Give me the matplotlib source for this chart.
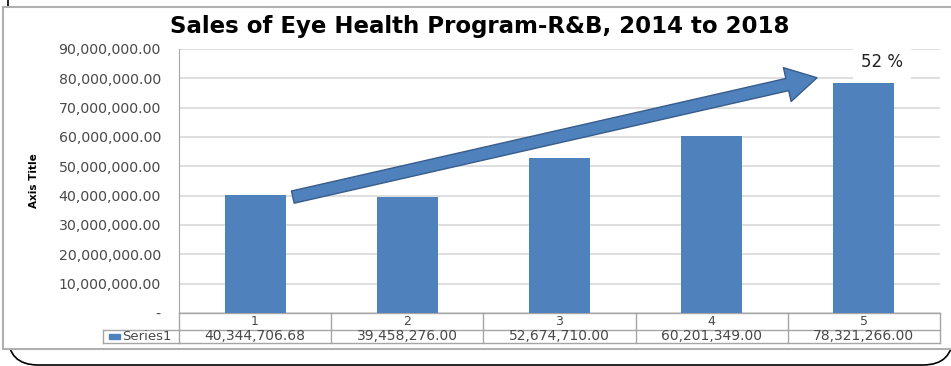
import matplotlib

matplotlib.use("Agg")

import matplotlib.pyplot as plt  # noqa: E402
from matplotlib.patches import FancyArrowPatch, FancyBboxPatch, Rectangle  # noqa: E402
from matplotlib.transforms import blended_transform_factory  # noqa: E402

# Sales per year (category index 1..5 = 2014..2018)
categories = [1, 2, 3, 4, 5]
sales = [40344706.68, 39458276.00, 52674710.00, 60201349.00, 78321266.00]
series_name = "Series1"
growth_label = "52 %"
title = "Sales of Eye Health Program-R&B, 2014 to 2018"
y_ticks = list(range(0, 90_000_001, 10_000_000))

W, H = 951, 366
BAR = "#4f81bd"
GRID = "#d9d9d9"
LINE = "#a6a6a6"
TXT = "#4a4a4a"


def fx(px):
    return px / W


def fy(py):
    return 1 - py / H


fig = plt.figure(figsize=(W / 100, H / 100), dpi=100)

# pixel canvas for the frame shapes behind the chart
bg = fig.add_axes([0, 0, 1, 1])
bg.set_xlim(0, W)
bg.set_ylim(H, 0)
bg.axis("off")
bg.add_patch(FancyBboxPatch((8, -60), 945, 425, boxstyle="round,pad=0,rounding_size=30",
                            fc="white", ec="black", lw=1.2))
bg.add_patch(Rectangle((3, 7), 1000, 342, fc="white", ec="#b0b0b0", lw=1.5))

# plot area
left, right, top, bottom = 179, 940, 49, 313
ax = fig.add_axes([fx(left), fy(bottom), fx(right - left), fy(top) - fy(bottom)])
ax.set_facecolor("none")
ax.bar(categories, sales, width=0.4, color=BAR, zorder=3)
ax.set_xlim(0.5, 5.5)
ax.set_ylim(0, 90_000_000)
ax.set_yticks(y_ticks)
ax.set_yticklabels(["-" if v == 0 else f"{v:,.2f}" for v in y_ticks],
                   fontsize=10.2, color=TXT)
ax.yaxis.grid(True, color=GRID, lw=1.2, zorder=0)
ax.set_xticks([])
ax.tick_params(axis="y", length=0, pad=13)
for s in ["top", "right", "bottom"]:
    ax.spines[s].set_visible(False)
ax.spines["left"].set_color(LINE)

ax.set_ylabel("Axis Title", family=["Liberation Sans Narrow", "DejaVu Sans"],
              fontsize=7.5, fontweight="bold", labelpad=14)

# data table beneath the bars
tr = blended_transform_factory(ax.transData, ax.transAxes)
h_ax = bottom - top


def ay(py):
    return (bottom - py) / h_ax


row1, row2 = ay(330), ay(343)
for xb in [0.5, 1.5, 2.5, 3.5, 4.5, 5.5]:
    ax.plot([xb, xb], [0, row2], transform=tr, color=LINE, lw=1, clip_on=False)
for yb in [0, row1, row2]:
    ax.plot([0.5, 5.5], [yb, yb], transform=tr, color=LINE, lw=1, clip_on=False)
for c, v in zip(categories, sales):
    ax.text(c, (0 + row1) / 2, str(c), transform=tr, ha="center", va="center",
            fontsize=9, color=TXT)
    ax.text(c, (row1 + row2) / 2, f"{v:,.2f}", transform=tr, ha="center", va="center",
            fontsize=10, color=TXT)

# legend cell of the table
lx0 = (103 - left) / (right - left) * 5 + 0.5
ax.plot([lx0, 0.5], [row1, row1], transform=tr, color=LINE, lw=1, clip_on=False)
ax.plot([lx0, 0.5], [row2, row2], transform=tr, color=LINE, lw=1, clip_on=False)
ax.plot([lx0, lx0], [row1, row2], transform=tr, color=LINE, lw=1, clip_on=False)
sq = (109 - left) / (right - left) * 5 + 0.5
ax.add_patch(Rectangle((sq, row1 + (row2 - row1) * 0.3), 0.07, (row2 - row1) * 0.4,
                       transform=tr, color=BAR, clip_on=False))
ax.text(sq + 0.085, (row1 + row2) / 2, series_name, transform=tr, ha="left", va="center",
        fontsize=9.5, color=TXT)

# trend arrow from first to last year
arrow = FancyArrowPatch((1.23, 39_300_000), (4.71, 80_400_000),
                        arrowstyle="simple,head_width=25,head_length=22,tail_width=9",
                        mutation_scale=1, fc=BAR, ec="#385d8a", lw=1, zorder=5)
ax.add_patch(arrow)
ax.text(5.12, 85_600_000, growth_label, ha="center", va="center", fontsize=12,
        color="#202020", zorder=6,
        bbox=dict(fc="white", ec="none", pad=6))

fig.text(fx(480), fy(27), title, ha="center", va="center", fontsize=16.5,
         fontweight="bold", family=["DejaVu Sans"])

fig.savefig("out.png", dpi=100)
